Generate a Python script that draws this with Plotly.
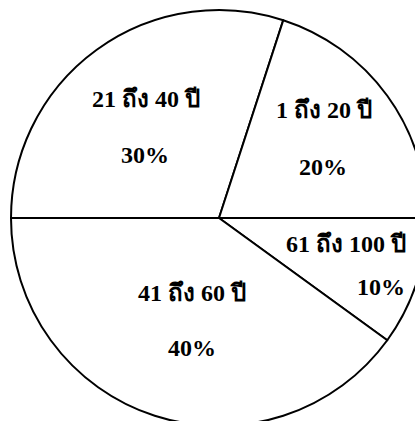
import plotly.graph_objects as go

# Data (clockwise from 9 o'clock)
labels = ["21 ถึง 40 ปี", "1 ถึง 20 ปี", "61 ถึง 100 ปี", "41 ถึง 60 ปี"]
values = [30, 20, 10, 40]

# Text anchor positions (pixels in the 440x440 figure, origin top-left)
label_pos = [(146, 99, "center"), (324, 110, "center"), (408, 244, "right"), (192, 293, "center")]
pct_pos = [(145, 155, "center"), (323, 167, "center"), (407, 287, "right"), (192, 348, "center")]

W, H = 440, 440
total = sum(values)

fig = go.Figure(go.Pie(
    labels=labels,
    values=values,
    sort=False,
    direction="clockwise",
    rotation=-90,
    marker=dict(colors=["white"] * len(values), line=dict(color="black", width=2)),
    textinfo="none",
    hoverinfo="skip",
    showlegend=False,
    domain=dict(x=[11 / W, 427 / W], y=[1 - 426 / H, 1 - 10 / H]),
))

font = dict(family="Liberation Serif", size=24, color="black")
annotations = []
for lab, v, (lx, ly, la), (px, py, pa) in zip(labels, values, label_pos, pct_pos):
    annotations.append(dict(x=lx / W, y=1 - ly / H, xref="paper", yref="paper",
                            text=f"<b>{lab}</b>", showarrow=False, font=font,
                            xanchor=la, yanchor="middle"))
    annotations.append(dict(x=px / W, y=1 - py / H, xref="paper", yref="paper",
                            text=f"<b>{round(100 * v / total)}%</b>", showarrow=False, font=font,
                            xanchor=pa, yanchor="middle"))

fig.update_layout(
    width=W, height=H,
    margin=dict(l=0, r=0, t=0, b=0),
    paper_bgcolor="white", plot_bgcolor="white",
    annotations=annotations,
)

fig.write_html("out.html",
               config={"displayModeBar": False},
               post_script="document.body.style.margin='0';document.body.style.overflow='hidden';document.documentElement.style.overflow='hidden';")
